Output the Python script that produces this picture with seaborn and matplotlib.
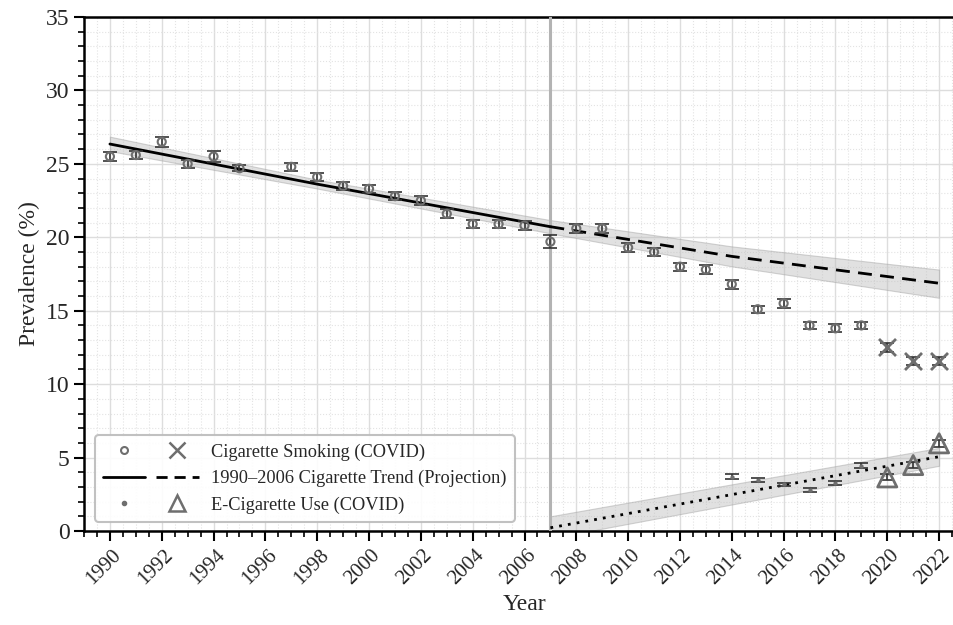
import numpy as np
import pandas as pd
import matplotlib
matplotlib.use("Agg")
import matplotlib.pyplot as plt
import matplotlib.transforms as mtransforms
from matplotlib.lines import Line2D
from matplotlib.legend_handler import HandlerTuple
from matplotlib.ticker import MultipleLocator
import seaborn as sns

# ---------------- data ----------------
cig_years = [1990, 1991, 1992, 1993, 1994, 1995, 1997, 1998, 1999, 2000, 2001,
             2002, 2003, 2004, 2005, 2006, 2007, 2008, 2009, 2010, 2011, 2012,
             2013, 2014, 2015, 2016, 2017, 2018, 2019, 2020, 2021, 2022]
cig_prev = [25.5, 25.6, 26.5, 25.0, 25.5, 24.7, 24.8, 24.1, 23.5, 23.3, 22.8,
            22.5, 21.6, 20.9, 20.9, 20.8, 19.7, 20.6, 20.6, 19.3, 19.0, 18.0,
            17.8, 16.8, 15.1, 15.5, 14.0, 13.8, 14.0, 12.5, 11.6, 11.6]
cig_err = [0.28, 0.25, 0.35, 0.28, 0.35, 0.22, 0.28, 0.3, 0.25, 0.28, 0.28,
           0.3, 0.3, 0.28, 0.28, 0.3, 0.45, 0.32, 0.32, 0.3, 0.3, 0.28,
           0.28, 0.3, 0.25, 0.3, 0.25, 0.28, 0.25, 0.3, 0.28, 0.28]

ecig_years = [2014, 2015, 2016, 2017, 2018, 2019, 2020, 2021, 2022]
ecig_prev = [3.7, 3.47, 3.18, 2.79, 3.25, 4.45, 3.65, 4.49, 5.97]
ecig_err = [0.16, 0.14, 0.12, 0.14, 0.14, 0.17, 0.2, 0.2, 0.25]

# 1990-2006 cigarette trend (fitted) and its projection, with band
cig_trend_years = [1990, 1998, 2007, 2014, 2022]
cig_trend_fit = [26.35, 23.62, 20.72, 18.7, 16.87]
cig_trend_lo = [25.87, 23.32, 20.27, 18.02, 15.88]
cig_trend_hi = [26.85, 23.92, 21.17, 19.38, 17.8]

# e-cigarette trend line and its band
ecig_trend_years = [2007, 2022]
ecig_trend_fit = [0.22, 5.06]
ecig_trend_lo = [-0.5, 4.44]
ecig_trend_hi = [1.0, 5.66]

covid_years = [2020, 2021, 2022]
break_year = 2007
xtick_years = list(range(1990, 2023, 2))

trend = pd.DataFrame({"year": cig_trend_years, "fit": cig_trend_fit,
                      "lo": cig_trend_lo, "hi": cig_trend_hi})
etrend = pd.DataFrame({"year": ecig_trend_years, "fit": ecig_trend_fit,
                       "lo": ecig_trend_lo, "hi": ecig_trend_hi})
df_cig = pd.DataFrame({"year": cig_years, "prev": cig_prev, "err": cig_err})

# ---------------- style ----------------
sns.set_theme(style="white")
plt.rcParams["font.family"] = ["Liberation Serif", "DejaVu Serif"]

fig = plt.figure(figsize=(9.54, 6.25), dpi=100)
ax = fig.add_axes([84 / 954, 94 / 625, (965 - 84) / 954, 514 / 625])

gray = "#6e6e6e"

# bands
for d in (trend, etrend):
    ax.fill_between(d.year, d.lo, d.hi, color="#bdbdbd", alpha=0.45,
                    edgecolor="#a0a0a0", linewidth=0.8, zorder=2)

# trend lines
pre = trend[trend.year <= break_year]
post = trend[trend.year >= break_year]
sns.lineplot(data=pre, x="year", y="fit", color="black", lw=2.0, ax=ax, zorder=4)
sns.lineplot(data=post, x="year", y="fit", color="black", lw=2.0, ax=ax,
             linestyle=(0, (5, 3)), zorder=4)
sns.lineplot(data=etrend, x="year", y="fit", color="black", lw=2.0, ax=ax,
             linestyle=(0, (1, 2.2)), zorder=4)

ax.axvline(break_year, color="#b3b3b3", lw=2.2, zorder=3)

# error bars
ax.errorbar(df_cig.year, df_cig.prev, yerr=df_cig.err, fmt="none", ecolor="#333333",
            elinewidth=1.2, capsize=5, capthick=1.2, zorder=5)
ax.errorbar(ecig_years, ecig_prev, yerr=ecig_err, fmt="none", ecolor="#333333",
            elinewidth=1.2, capsize=5, capthick=1.2, zorder=5)

# markers
df_cig["covid"] = df_cig.year.isin(covid_years)
sns.scatterplot(data=df_cig[~df_cig.covid], x="year", y="prev", marker="o", s=34,
                facecolor="none", edgecolor=gray, linewidth=1.5, ax=ax, zorder=6)
sns.scatterplot(data=df_cig[df_cig.covid], x="year", y="prev", marker="x", s=150,
                color=gray, linewidth=2.0, ax=ax, zorder=6)
df_e = pd.DataFrame({"year": ecig_years, "prev": ecig_prev})
df_e["covid"] = df_e.year.isin(covid_years)
sns.scatterplot(data=df_e[~df_e.covid], x="year", y="prev", marker="o", s=8,
                color=gray, edgecolor=gray, ax=ax, zorder=6)
sns.scatterplot(data=df_e[df_e.covid], x="year", y="prev", marker="^", s=190,
                facecolor="none", edgecolor=gray, linewidth=2.0, ax=ax, zorder=6)

# axes
ax.set_xlim(1989, 2023)
ax.set_ylim(0, 35)
ax.set_xticks(xtick_years)
ax.set_xticklabels([str(y) for y in xtick_years], rotation=45, fontsize=15)
ax.xaxis.set_minor_locator(MultipleLocator(0.5))
ax.yaxis.set_major_locator(MultipleLocator(5))
ax.yaxis.set_minor_locator(MultipleLocator(1))
ax.tick_params(axis="y", labelsize=17)
ax.tick_params(which="major", direction="out", length=7, width=1.5, color="black",
               bottom=True, left=True)
ax.tick_params(which="minor", direction="out", length=4, width=1.2, color="black",
               bottom=True, left=True)
ax.grid(which="major", color="#dddddd", lw=1.0, ls="-")
ax.grid(which="minor", color="#e3e3e3", lw=0.8, ls=":")
ax.set_axisbelow(True)
for side in ["left", "bottom", "top"]:
    ax.spines[side].set_visible(True)
    ax.spines[side].set_color("black")
    ax.spines[side].set_linewidth(1.8)
ax.spines["right"].set_visible(False)
ax.set_xlabel("Year", fontsize=17)
ax.set_ylabel("Prevalence (%)", fontsize=17)

# legend
h1 = (Line2D([], [], marker="o", ls="none", mfc="none", mec=gray, ms=5, mew=1.5),
      Line2D([], [], marker="x", ls="none", color=gray, ms=11, mew=1.8))
h2 = (Line2D([], [], color="black", lw=2.0),
      Line2D([], [], color="black", lw=2.0, ls=(0, (4, 2.5))))
h3 = (Line2D([], [], marker="o", ls="none", color=gray, ms=3),
      Line2D([], [], marker="^", ls="none", mfc="none", mec=gray, ms=12, mew=1.8))
leg = ax.legend([h1, h2, h3],
                ["Cigarette Smoking (COVID)", "1990\u20132006 Cigarette Trend (Projection)",
                 "E-Cigarette Use (COVID)"],
                handler_map={tuple: HandlerTuple(ndivide=None, pad=0.6)},
                loc="lower left", bbox_to_anchor=(0.002, 0.0), fontsize=13.2,
                handlelength=5.2, handletextpad=0.7, frameon=True, fancybox=True,
                framealpha=0.9, edgecolor="#bbbbbb", borderpad=0.45, labelspacing=0.5)
leg.get_frame().set_linewidth(1.5)

# nudge the rotated year labels slightly left so the last one stays inside
fig.canvas.draw()
shift = mtransforms.ScaledTranslation(-0.06, 0, fig.dpi_scale_trans)
for tick in ax.xaxis.get_major_ticks():
    tick.label1.set_transform(tick.label1.get_transform() + shift)

fig.savefig("out.png", dpi=100)
